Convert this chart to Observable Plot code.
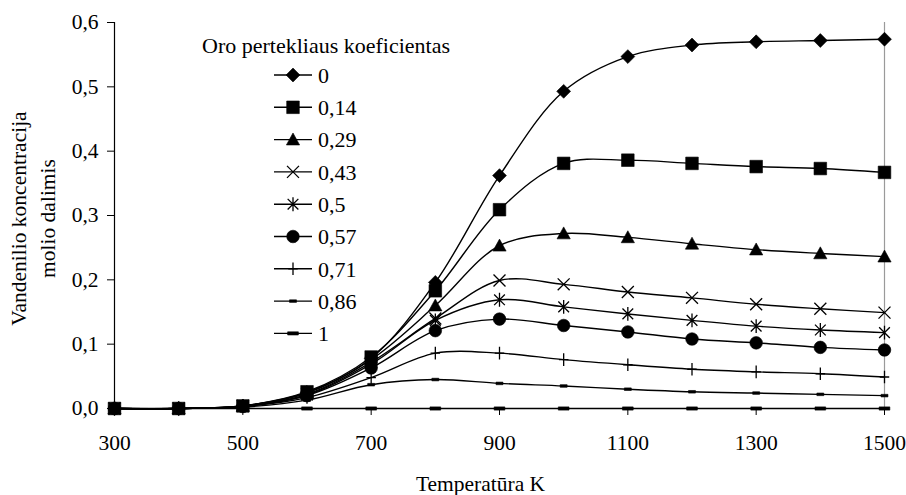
<!DOCTYPE html>
<html>
<head>
<meta charset="utf-8">
<script src="https://cdn.jsdelivr.net/npm/d3@7"></script>
<script src="https://cdn.jsdelivr.net/npm/@observablehq/plot@0.6"></script>
<style>
  body { margin: 0; background: #fff; }
  #chart { position: relative; width: 906px; height: 495px; background: #fff; }
  #chart svg, #chart svg text { font-family: "Liberation Serif", "Tinos", "Times New Roman", "DejaVu Serif", serif !important; }
</style>
</head>
<body>
<div id="chart"></div>
<script>
// ---- data ----
const temperatures = [300, 400, 500, 600, 700, 800, 900, 1000, 1100, 1200, 1300, 1400, 1500];
const seriesNames = ["0", "0,14", "0,29", "0,43", "0,5", "0,57", "0,71", "0,86", "1"];
const s0   = [0, 0, 0.004, 0.025, 0.078, 0.196, 0.362, 0.493, 0.547, 0.565, 0.570, 0.572, 0.574];
const s014 = [0, 0, 0.004, 0.026, 0.080, 0.183, 0.309, 0.381, 0.386, 0.381, 0.376, 0.373, 0.367];
const s029 = [0, 0, 0.004, 0.024, 0.076, 0.160, 0.253, 0.272, 0.266, 0.256, 0.247, 0.241, 0.236];
const s043 = [0, 0, 0.004, 0.022, 0.072, 0.140, 0.199, 0.193, 0.181, 0.172, 0.162, 0.155, 0.149];
const s05  = [0, 0, 0.004, 0.021, 0.069, 0.137, 0.169, 0.158, 0.147, 0.137, 0.128, 0.122, 0.118];
const s057 = [0, 0, 0.003, 0.020, 0.063, 0.121, 0.139, 0.129, 0.119, 0.108, 0.102, 0.095, 0.091];
const s071 = [0, 0, 0.003, 0.017, 0.048, 0.086, 0.086, 0.076, 0.068, 0.061, 0.057, 0.054, 0.049];
const s086 = [0, 0, 0.002, 0.013, 0.037, 0.045, 0.039, 0.035, 0.030, 0.026, 0.024, 0.022, 0.020];
const s1   = [0, 0, 0, 0, 0, 0, 0, 0, 0, 0, 0, 0, 0];
const seriesValues = [s0, s014, s029, s043, s05, s057, s071, s086, s1];
const xTicks = [300, 500, 700, 900, 1100, 1300, 1500];
const yTicks = [0, 0.1, 0.2, 0.3, 0.4, 0.5, 0.6];
const legendTitle = "Oro pertekliaus koeficientas";
const xLabel = "Temperatūra K";
const yLabel = "Vandenilio koncentracija\nmolio dalimis";

// ---- marker symbols ----
function sym(fn) { return { draw(ctx, size) { const h = Math.sqrt(size / Math.PI); fn(ctx, h); } }; }
const symDiamond = sym((c, h) => { const d = h * 1.1; c.moveTo(0, -d); c.lineTo(d, 0); c.lineTo(0, d); c.lineTo(-d, 0); c.closePath(); });
const symSquare = sym((c, h) => { c.rect(-h, -h, 2 * h, 2 * h); });
const symTriangle = sym((c, h) => { c.moveTo(0, -h * 1.05); c.lineTo(h * 1.05, h * 0.85); c.lineTo(-h * 1.05, h * 0.85); c.closePath(); });
const symTimes = sym((c, h) => { const d = h * 0.95; c.moveTo(-d, -d); c.lineTo(d, d); c.moveTo(d, -d); c.lineTo(-d, d); });
const symStar = sym((c, h) => { const d = h * 0.85; c.moveTo(-d, -d); c.lineTo(d, d); c.moveTo(d, -d); c.lineTo(-d, d); c.moveTo(0, -h * 1.1); c.lineTo(0, h * 1.1); });
const symCircle = sym((c, h) => { c.moveTo(h, 0); c.arc(0, 0, h, 0, 2 * Math.PI); });
const symPlus = sym((c, h) => { c.moveTo(0, -h); c.lineTo(0, h); c.moveTo(-h * 0.75, 0); c.lineTo(h * 0.75, 0); });
const symDashS = sym((c, h) => { c.rect(-h * 0.55, -1.3, h * 1.1, 2.6); });
const symDashL = sym((c, h) => { c.rect(-h * 0.85, -1.6, h * 1.7, 3.2); });
const markerStyles = [
  { symbol: symDiamond, filled: true },
  { symbol: symSquare, filled: true },
  { symbol: symTriangle, filled: true },
  { symbol: symTimes, filled: false },
  { symbol: symStar, filled: false },
  { symbol: symCircle, filled: true },
  { symbol: symPlus, filled: false },
  { symbol: symDashS, filled: true },
  { symbol: symDashL, filled: true }
];
const R = 6.3;
const FONT = "'Liberation Serif', Tinos, 'Times New Roman', 'DejaVu Serif', serif";

const fmtY = d => d.toFixed(1).replace(".", ",");

// ---- build marks ----
const marks = [
  Plot.ruleX([1500], { stroke: "#9a9a9a", strokeWidth: 1.2 }),
  Plot.ruleX([300], { stroke: "black", strokeWidth: 1.2 }),
  Plot.ruleY([0], { stroke: "black", strokeWidth: 1.2 }),
  Plot.axisY({ ticks: yTicks, tickFormat: fmtY, tickSize: 7, tickPadding: 9, label: null, stroke: "black" }),
  Plot.axisX({ ticks: xTicks, tickFormat: d => String(d), tickSize: 7, tickPadding: 19, label: null, stroke: "black" }),
  Plot.text([yLabel], { frameAnchor: "left", rotate: -90, dx: -83, dy: 3, lineHeight: 1.33, textAnchor: "middle", lineAnchor: "middle", fill: "black" }),
  Plot.text([xLabel], { frameAnchor: "bottom", dx: -19, dy: 76, lineAnchor: "middle", fill: "black" })
];

seriesValues.forEach((vals, i) => {
  const rows = temperatures.map((t, j) => ({ t, v: vals[j], series: seriesNames[i] }));
  const st = markerStyles[i];
  marks.push(Plot.line(rows, { x: "t", y: "v", curve: "catmull-rom", stroke: "black", strokeWidth: 1.4 }));
  marks.push(Plot.dot(rows, {
    x: "t", y: "v", r: R, symbol: st.symbol,
    fill: st.filled ? "black" : "none",
    stroke: "black", strokeWidth: st.filled ? 0.6 : 1.3
  }));
});

const chart = Plot.plot({
  width: 906,
  height: 495,
  marginLeft: 114,
  marginRight: 22,
  marginTop: 22,
  marginBottom: 87,
  x: { domain: [300, 1500] },
  y: { domain: [0, 0.6] },
  style: { fontSize: "21.5px", fontFamily: FONT, color: "black", background: "white", overflow: "visible" },
  marks
});
const root = document.getElementById("chart");
root.appendChild(chart);

// ---- legend (overlay) ----
const leg = d3.select(root).append("svg")
  .attr("width", 906).attr("height", 495)
  .style("position", "absolute").style("left", "0px").style("top", "0px")
  .style("font-family", FONT)
  .style("font-size", "22px");
leg.append("text").attr("x", 202).attr("y", 45).attr("dy", "0.35em").attr("fill", "black").text(legendTitle);
seriesNames.forEach((name, i) => {
  const y = 75 + i * 32.3;
  const g = leg.append("g").attr("transform", `translate(0,${y})`);
  g.append("line").attr("x1", 274).attr("x2", 312).attr("y1", 0).attr("y2", 0).attr("stroke", "black").attr("stroke-width", 1.4);
  const p = d3.path();
  markerStyles[i].symbol.draw(p, R * R * Math.PI);
  g.append("path").attr("transform", "translate(293,0)").attr("d", p.toString())
    .attr("fill", markerStyles[i].filled ? "black" : "none")
    .attr("stroke", "black").attr("stroke-width", markerStyles[i].filled ? 0.6 : 1.3);
  g.append("text").attr("x", 318).attr("y", 0).attr("dy", "0.35em").attr("fill", "black").text(name);
});
</script>
</body>
</html>
